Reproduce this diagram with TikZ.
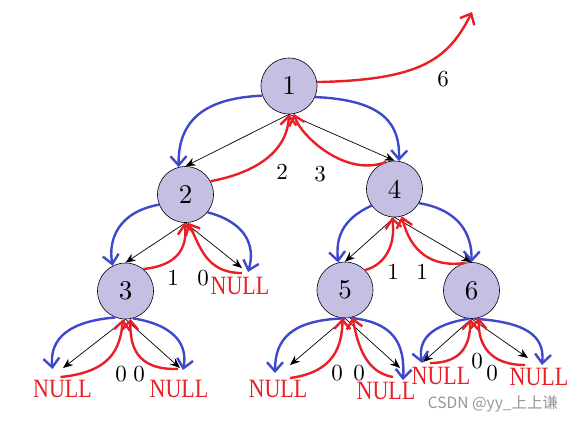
\documentclass[tikz,border=0pt]{standalone}
\usepackage{fontspec}
\usepackage{graphicx}
\newfontfamily\nullserif{Liberation Serif}
\newfontfamily\digitfont{lmroman10-regular}[Extension=.otf]
\newfontfamily\cjk{Noto Sans CJK SC}
\usetikzlibrary{arrows.meta,calc}

\definecolor{nodefill}{RGB}{197,191,228}
\definecolor{arcblue}{RGB}{62,72,204}
\definecolor{arcred}{RGB}{234,30,38}

\begin{document}
\begin{tikzpicture}[x=1pt,y=-1pt,
    treenode/.style={circle,draw=black,line width=0.6pt,fill=nodefill,minimum size=56pt,inner sep=0pt,font=\digitfont\fontsize{27}{30}\selectfont},
    nullbox/.style={text=arcred,inner sep=0pt,font=\nullserif\fontsize{22}{26}\selectfont},
    edgelabel/.style={inner sep=0pt,font=\digitfont\fontsize{23}{26}\selectfont},
    treeedge/.style={black,line width=0.7pt,-{Stealth[length=10pt,width=8pt]}},
    bluearc/.style={arcblue,line width=2.4pt,-{Straight Barb[length=9pt,width=16pt]}},
    redarc/.style={arcred,line width=2.4pt,-{Straight Barb[length=9pt,width=16pt]}}]
  \useasboundingbox (0,0) rectangle (580,423);

  % tree nodes
  \node[treenode] (n1) at (289,86) {1};
  \node[treenode] (n2) at (185.5,194.5) {2};
  \node[treenode] (n3) at (125.5,291) {3};
  \node[treenode] (n4) at (394.5,189) {4};
  \node[treenode] (n5) at (345,290) {5};
  \node[treenode] (n6) at (471.5,290.5) {6};

  % empty children
  \foreach \n/\x/\y in {
      z2/240/286,
      z3a/62.5/389, z3b/179/389,
      z5a/278/389, z5b/386/391,
      z6a/441/376, z6b/539/377
  } {
      \node[nullbox] (\n) at (\x,\y) {\scalebox{1}[1.2]{NULL}};
  }

  % tree edges
  \draw[treeedge] (n1.south) -- (n2.north);
  \draw[treeedge] (n1.south) -- (n4.north);
  \draw[treeedge] (n2.south) -- (n3.north);
  \draw[treeedge] (n2.south) -- ($(z2.north)+(2,-9)$);
  \draw[treeedge] (n3.south) -- ($(z3a.north)+(0.5,-12)$);
  \draw[treeedge] (n3.south) -- ($(z3b.north)+(1,-12)$);
  \draw[treeedge] (n4.south) -- (n5.north);
  \draw[treeedge] (n4.south) -- (n6.north);
  \draw[treeedge] (n5.south) -- ($(z5a.north)+(12,-15)$);
  \draw[treeedge] (n5.south) -- ($(z5b.north)+(14,-14)$);
  \draw[treeedge] (n6.south) -- ($(z6a.north)+(-18,-5)$);
  \draw[treeedge] (n6.south) -- ($(z6b.north)+(-11,-10)$);

  % going down (blue)
  \draw[bluearc] (n1.200) .. controls (205,98) and (178,120) .. (n2.104);
  \draw[bluearc] (n1.-23) .. controls (385,100) and (400,125) .. (n4.81);
  \draw[bluearc] (n2.201) .. controls (118,212) and (108,240) .. (n3.117);
  \draw[bluearc] (n2.-39) .. controls (245,222) and (256,245) .. ($(z2.north)+(8,-5)$);
  \draw[bluearc] (n3.249) .. controls (60,322) and (50,345) .. ($(z3a.north)+(-10,-11)$);
  \draw[bluearc] (n3.285) .. controls (175,325) and (188,345) .. ($(z3b.north)+(4,-10)$);
  \draw[bluearc] (n4.216) .. controls (340,220) and (336,240) .. (n5.104);
  \draw[bluearc] (n4.330) .. controls (460,210) and (472,235) .. (n6.north);
  \draw[bluearc] (n5.270) .. controls (290,320) and (275,340) .. ($(z5a.north)+(-3,-7)$);
  \draw[bluearc] (n5.280) .. controls (395,322) and (405,345) .. ($(z5b.north)+(17,-2)$);
  \draw[bluearc] (n6.265) .. controls (430,325) and (418,340) .. ($(z6a.north)+(-19,-4)$);
  \draw[bluearc] (n6.275) .. controls (525,322) and (545,335) .. ($(z6b.north)+(3,-3)$);

  % going back up (red)
  \coordinate (up) at (472,12);
  \draw[redarc] (n1.8) .. controls (420,80) and (448,60) .. (up);
  \draw[redarc] (n2.28) .. controls (250,174) and (287,155) .. (n1.270);
  \draw[redarc] (n4.107) .. controls (345,178) and (300,135) .. (n1.280);
  \draw[redarc] (n3.51) .. controls (175,266) and (188,250) .. (n2.268);
  \draw[redarc] ($(z2.north)+(2,-4)$) .. controls (205,273) and (200,245) .. (n2.275);
  \draw[redarc] ($(z3a.north)+(-2,-3)$) .. controls (110,372) and (120,350) .. (n3.265);
  \draw[redarc] ($(z3b.north)+(-1,-11)$) .. controls (135,370) and (130,345) .. (n3.280);
  \draw[redarc] (n5.45) .. controls (385,265) and (396,245) .. (n4.265);
  \draw[redarc] (n6.103) .. controls (430,268) and (410,250) .. (n4.285);
  \draw[redarc] ($(z5a.north)+(12,-2)$) .. controls (335,372) and (342,345) .. (n5.265);
  \draw[redarc] ($(z5b.north)+(7,-5)$) .. controls (365,372) and (358,345) .. (n5.285);
  \draw[redarc] ($(z6a.north)+(-11,-4)$) .. controls (462,363) and (470,345) .. (n6.268);
  \draw[redarc] ($(z6b.north)+(-14,-3)$) .. controls (490,365) and (478,345) .. (n6.285);

  % heights
  \foreach \x/\y/\t [count=\k] in {
      443/79/6, 282/172/2, 320/174/3,
      173/278/1, 203/278/0,
      121/374/0, 139/374/0,
      393/272/1, 422/272/1,
      337/373/0, 359/373/0,
      477/361/0, 492/373/0
  } {
      \node[edgelabel] (lab\k) at (\x,\y) {\t};
  }

  \node[text={rgb,255:red,150;green,150;blue,150},font=\cjk\fontsize{15.5}{18}\selectfont] (mark) at (493,404) {CSDN @yy\_上上谦};
\end{tikzpicture}
\end{document}
